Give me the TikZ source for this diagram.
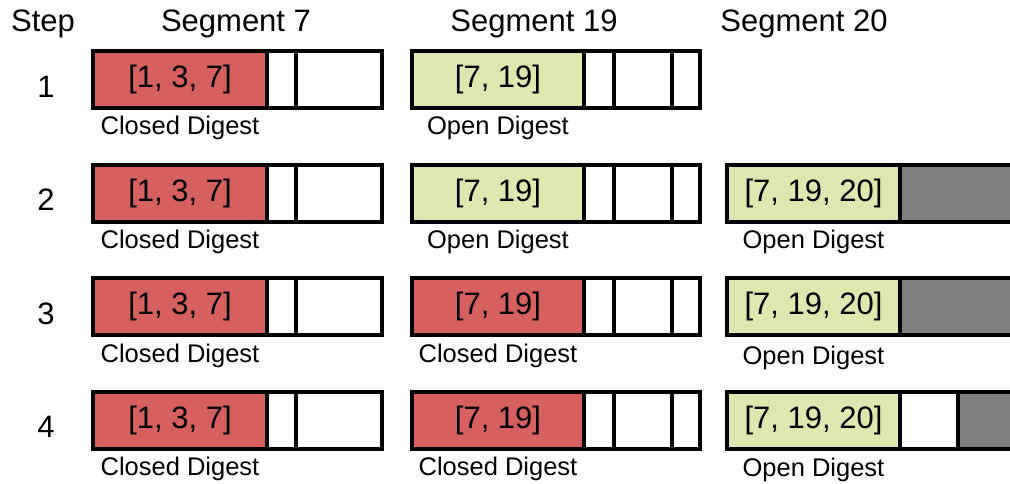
\documentclass[tikz,border=0pt]{standalone}
\usepackage{fontspec}
\setmainfont{Liberation Sans}
\usepackage{tikz}
\usetikzlibrary{positioning}

\definecolor{closedred}{HTML}{D65F5F}
\definecolor{opengreen}{HTML}{DDE8B0}
\definecolor{emptygray}{HTML}{808080}

\tikzset{
	seg/.style={draw=black,line width=3.5pt},
	digest/.style={seg,anchor=north west,inner sep=0pt,outer sep=0pt,minimum height=57pt,font=\fontsize{31}{36}\selectfont},
	closedbox/.style={digest,fill=closedred},
	openbox/.style={digest,fill=opengreen},
	dlabel/.style={inner sep=0pt,font=\fontsize{25.5}{30}\selectfont},
	bigtext/.style={inner sep=0pt,font=\fontsize{31}{36}\selectfont}
}

\begin{document}
\begin{tikzpicture}[x=1pt,y=-1pt]
			\useasboundingbox (0,0) rectangle (1010,484);
			\clip (0,0) rectangle (1010,484);
			% headers
			\node[bigtext] (hstep) at (43,24) {Step};
			\node[bigtext] (h7) at (236,24) {Segment 7};
			\node[bigtext] (h19) at (534,24) {Segment 19};
			\node[bigtext] (h20) at (804,24) {Segment 20};
			% step numbers
			\node[bigtext] (s1) at (46,87) {1};
			\node[bigtext] (s2) at (46,200) {2};
			\node[bigtext] (s3) at (46,314) {3};
			\node[bigtext] (s4) at (46,427) {4};
			% segment 7
			\draw[seg] (93,51) rectangle (382,108);
			\draw[seg] (296,51)--(296,108);
			\node[closedbox,minimum width=174pt] (d7a) at (93,51) {[1, 3, 7]};
			\draw[seg] (93,165) rectangle (382,222);
			\draw[seg] (296,165)--(296,222);
			\node[closedbox,minimum width=174pt] (d7b) at (93,165) {[1, 3, 7]};
			\draw[seg] (93,278) rectangle (382,335);
			\draw[seg] (296,278)--(296,335);
			\node[closedbox,minimum width=174pt] (d7c) at (93,278) {[1, 3, 7]};
			\draw[seg] (93,392) rectangle (382,449);
			\draw[seg] (296,392)--(296,449);
			\node[closedbox,minimum width=174pt] (d7d) at (93,392) {[1, 3, 7]};
			\node[dlabel] (l7a) at ([yshift=-20pt]d7a.south) {Closed Digest};
			\node[dlabel] (l7b) at ([yshift=-20pt]d7b.south) {Closed Digest};
			\node[dlabel] (l7c) at ([yshift=-21pt]d7c.south) {Closed Digest};
			\node[dlabel] (l7d) at ([yshift=-20pt]d7d.south) {Closed Digest};
			% segment 19
			\draw[seg] (412,51) rectangle (700,108);
			\draw[seg] (614,51)--(614,108);
			\draw[seg] (672,51)--(672,108);
			\node[openbox,minimum width=172pt] (d19a) at (412,51) {[7, 19]};
			\draw[seg] (412,165) rectangle (700,222);
			\draw[seg] (614,165)--(614,222);
			\draw[seg] (672,165)--(672,222);
			\node[openbox,minimum width=172pt] (d19b) at (412,165) {[7, 19]};
			\draw[seg] (412,278) rectangle (700,335);
			\draw[seg] (614,278)--(614,335);
			\draw[seg] (672,278)--(672,335);
			\node[closedbox,minimum width=172pt] (d19c) at (412,278) {[7, 19]};
			\draw[seg] (412,392) rectangle (700,449);
			\draw[seg] (614,392)--(614,449);
			\draw[seg] (672,392)--(672,449);
			\node[closedbox,minimum width=172pt] (d19d) at (412,392) {[7, 19]};
			\node[dlabel] (l19a) at ([yshift=-20pt]d19a.south) {Open Digest};
			\node[dlabel] (l19b) at ([yshift=-20pt]d19b.south) {Open Digest};
			\node[dlabel] (l19c) at ([yshift=-21pt]d19c.south) {Closed Digest};
			\node[dlabel] (l19d) at ([yshift=-20pt]d19d.south) {Closed Digest};
			% segment 20
			\draw[seg,fill=emptygray] (900,165) rectangle (1040,222);
			\node[openbox,minimum width=173pt] (d20b) at (727,165) {[7, 19, 20]};
			\draw[seg,fill=emptygray] (900,278) rectangle (1040,335);
			\node[openbox,minimum width=173pt] (d20c) at (727,278) {[7, 19, 20]};
			\draw[seg,fill=emptygray] (958,392) rectangle (1040,449);
			\draw[seg] (900,392) rectangle (958,449);
			\node[openbox,minimum width=173pt] (d20d) at (727,392) {[7, 19, 20]};
			\node[dlabel] (l20b) at ([yshift=-20pt]d20b.south) {Open Digest};
			\node[dlabel] (l20c) at ([yshift=-23pt]d20c.south) {Open Digest};
			\node[dlabel] (l20d) at ([yshift=-21pt]d20d.south) {Open Digest};
		\end{tikzpicture}
\end{document}
